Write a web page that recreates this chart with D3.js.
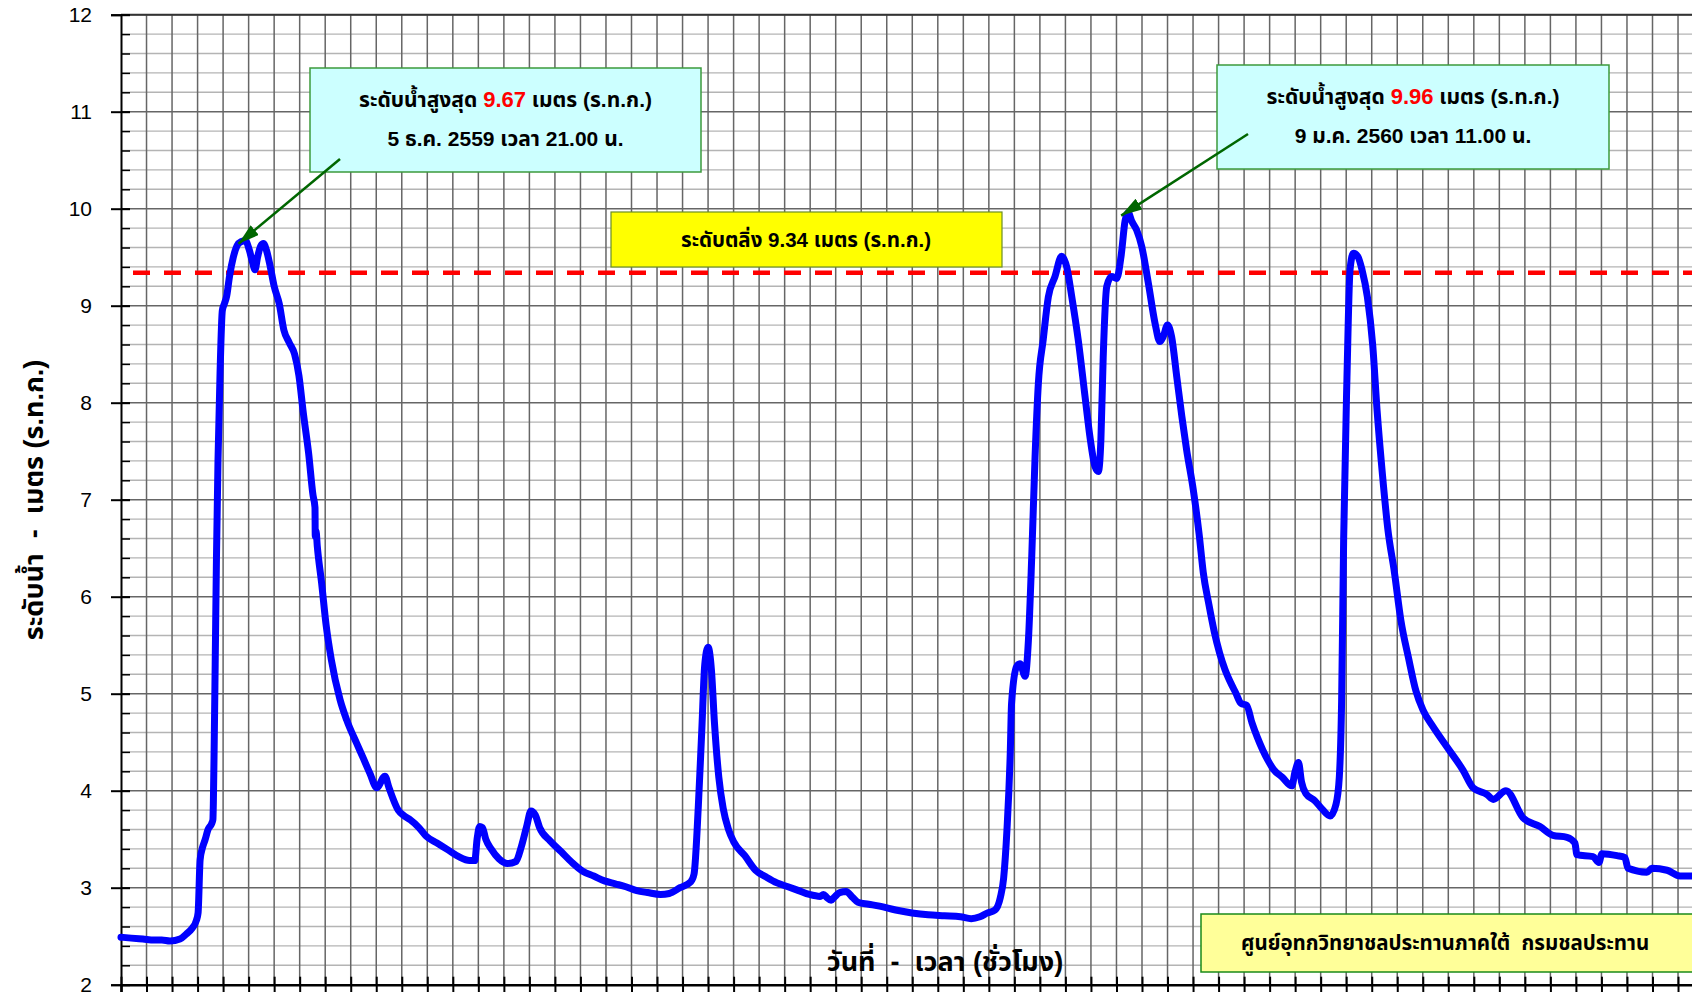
<!DOCTYPE html>
<html>
<head>
<meta charset="utf-8">
<script src="https://cdn.jsdelivr.net/npm/d3@7"></script>
<style>
  html, body { margin: 0; padding: 0; background: #fff; }
  svg { display: block; font-family: Arial, "Liberation Sans", "Noto Sans Thai", Tahoma, sans-serif; }
  text { white-space: pre; }
</style>
</head>
<body>
<svg id="chart"></svg>
<script>
var width = 1692, height = 992;
var left = 121, top0 = 14.7, bottom = 984.7;
var pxPerDay = 25.525;
var nDays = 62;
var startDate = Date.UTC(2016, 11, 1); // 1 ธ.ค. 2559 00:00

// วันนับจากวันที่ 1 ธ.ค. (ทศนิยม = ชั่วโมง/24)
var obsDay = [
  0.00, 0.40, 0.86, 1.30, 1.60, 1.92, 2.31, 2.55, 2.78, 2.95,
  3.02, 3.10, 3.20, 3.29, 3.41, 3.55, 3.60, 3.62, 3.65, 3.69,
  3.74, 3.80, 3.88, 3.97, 4.05, 4.14, 4.25, 4.40, 4.55, 4.70,
  4.875, 5.02, 5.15, 5.25, 5.35, 5.48, 5.58, 5.70, 5.85, 6.00,
  6.20, 6.38, 6.59, 6.80, 6.97, 7.14, 7.35, 7.52, 7.60, 7.61,
  7.64, 7.69, 7.86, 8.03, 8.24, 8.58, 8.84, 9.23, 9.50, 9.75,
  10.02, 10.34, 10.50, 10.86, 11.10, 11.33, 11.67, 11.96, 12.38, 12.81,
  13.23, 13.65, 13.86, 13.95, 14.05, 14.16, 14.29, 14.50, 14.80, 15.14,
  15.47, 15.68, 15.90, 16.06, 16.23, 16.40, 16.82, 17.25, 17.67, 18.09,
  18.52, 18.94, 19.36, 19.78, 20.21, 20.63, 21.14, 21.48, 21.90, 22.32,
  22.45, 22.62, 22.75, 22.87, 23.00, 23.13, 23.25, 23.42, 23.59, 23.80,
  24.01, 24.44, 24.86, 25.28, 25.70, 26.13, 26.55, 26.97, 27.39, 27.52,
  27.65, 27.82, 27.94, 28.16, 28.41, 28.66, 28.87, 29.29, 29.72, 30.35,
  30.99, 31.62, 32.26, 32.89, 33.31, 33.65, 33.95, 34.24, 34.45, 34.58,
  34.71, 34.84, 34.89, 35.09, 35.22, 35.42, 35.55, 35.68, 35.81, 35.94,
  36.13, 36.33, 36.59, 36.85, 37.05, 37.25, 37.50, 37.77, 37.96, 38.16,
  38.29, 38.39, 38.48, 38.62, 38.81, 39.01, 39.18, 39.34, 39.458, 39.60,
  39.79, 39.99, 40.25, 40.51, 40.70, 40.83, 41.00, 41.16, 41.36, 41.56,
  41.75, 42.01, 42.24, 42.40, 42.62, 42.83, 43.04, 43.25, 43.46, 43.67,
  43.88, 44.10, 44.31, 44.52, 44.73, 44.94, 45.15, 45.49, 45.87, 46.00,
  46.13, 46.25, 46.42, 46.76, 47.06, 47.37, 47.60, 47.73, 47.82, 47.90,
  48.03, 48.15, 48.28, 48.45, 48.62, 48.83, 49.04, 49.21, 49.42, 49.63,
  49.89, 50.14, 50.44, 50.73, 51.01, 51.40, 51.95, 52.58, 52.97, 53.52,
  53.76, 54.26, 54.93, 55.59, 56.10, 56.65, 56.96, 57.04, 57.67, 57.90,
  58.02, 58.61, 58.92, 59.04, 59.78, 59.98, 60.57, 61.08, 61.60
];

// ระดับน้ำ (ม. ร.ท.ก.)
var obsLevel = [
  2.49, 2.48, 2.47, 2.46, 2.46, 2.45, 2.47, 2.52, 2.58, 2.66,
  2.74, 3.29, 3.42, 3.49, 3.60, 3.66, 3.70, 3.90, 4.45, 5.30,
  6.40, 7.40, 8.30, 8.95, 9.02, 9.10, 9.30, 9.50, 9.62, 9.66,
  9.67, 9.58, 9.45, 9.37, 9.50, 9.62, 9.64, 9.57, 9.40, 9.20,
  9.02, 8.75, 8.62, 8.50, 8.28, 7.90, 7.48, 7.05, 6.92, 6.62,
  6.68, 6.52, 6.14, 5.72, 5.35, 4.94, 4.73, 4.49, 4.33, 4.18,
  4.03, 4.15, 4.03, 3.80, 3.74, 3.70, 3.62, 3.53, 3.46, 3.39,
  3.32, 3.28, 3.28, 3.50, 3.63, 3.62, 3.50, 3.40, 3.30, 3.25,
  3.27, 3.42, 3.64, 3.79, 3.75, 3.62, 3.48, 3.37, 3.26, 3.17,
  3.12, 3.07, 3.04, 3.01, 2.97, 2.95, 2.93, 2.94, 3.00, 3.06,
  3.14, 3.85, 4.60, 5.30, 5.48, 5.25, 4.70, 4.14, 3.82, 3.60,
  3.47, 3.33, 3.18, 3.11, 3.05, 3.01, 2.97, 2.93, 2.91, 2.93,
  2.90, 2.87, 2.90, 2.95, 2.96, 2.90, 2.85, 2.83, 2.81, 2.77,
  2.74, 2.72, 2.71, 2.70, 2.68, 2.70, 2.74, 2.77, 2.90, 3.10,
  3.60, 4.40, 4.90, 5.28, 5.31, 5.18, 5.55, 6.41, 7.44, 8.20,
  8.65, 9.09, 9.30, 9.51, 9.40, 9.09, 8.65, 8.06, 7.65, 7.34,
  7.29, 7.62, 8.47, 9.20, 9.30, 9.28, 9.51, 9.88, 9.96, 9.87,
  9.78, 9.61, 9.23, 8.82, 8.63, 8.68, 8.80, 8.68, 8.27, 7.86,
  7.51, 7.10, 6.64, 6.25, 5.92, 5.64, 5.42, 5.25, 5.12, 5.01,
  4.90, 4.88, 4.70, 4.55, 4.42, 4.31, 4.22, 4.14, 4.05, 4.20,
  4.29, 4.09, 3.97, 3.90, 3.81, 3.74, 3.86, 4.14, 4.92, 6.59,
  8.26, 9.37, 9.54, 9.51, 9.37, 9.09, 8.59, 7.92, 7.26, 6.70,
  6.25, 5.76, 5.37, 5.03, 4.83, 4.66, 4.45, 4.21, 4.03, 3.96,
  3.91, 4.00, 3.72, 3.63, 3.54, 3.52, 3.46, 3.34, 3.32, 3.26,
  3.35, 3.33, 3.31, 3.20, 3.16, 3.20, 3.18, 3.12, 3.12
];

var yTicks = [2, 3, 4, 5, 6, 7, 8, 9, 10, 11, 12];
var bankLevel = 9.34;
var peaks = [
  { day: 4.875, level: 9.67, line1: "ระดับน้ำสูงสุด ", value: "9.67", line1b: " เมตร (ร.ท.ก.)", line2: "5 ธ.ค. 2559 เวลา 21.00 น." },
  { day: 39.458, level: 9.96, line1: "ระดับน้ำสูงสุด ", value: "9.96", line1b: " เมตร (ร.ท.ก.)", line2: "9 ม.ค. 2560 เวลา 11.00 น." }
];
var bankLabel = "ระดับตลิ่ง 9.34 เมตร (ร.ท.ก.)";
var sourceLabel = "ศูนย์อุทกวิทยาชลประทานภาคใต้  กรมชลประทาน";
var xTitle = "วันที่  -  เวลา (ชั่วโมง)";
var yTitle = "ระดับน้ำ  -  เมตร (ร.ท.ก.)";

var toDate = d => new Date(startDate + d * 864e5);
var dataset = obsDay.map((d, i) => ({ t: toDate(d), v: obsLevel[i] }));

var svg = d3.select("#chart").attr("width", width).attr("height", height);

var xScale = d3.scaleUtc()
  .domain([toDate(0), toDate(nDays)])
  .range([left, left + nDays * pxPerDay]);
var yScale = d3.scaleLinear().domain([2, 12]).range([bottom, top0]);

// เส้นกริด
var grid = svg.append("g");
var minorY = d3.range(2, 12.001, 0.2).map(v => +v.toFixed(1));
grid.selectAll(".hminor").data(minorY.filter(v => Math.abs(v - Math.round(v)) > 0.01))
  .enter().append("line")
  .attr("x1", left).attr("x2", width)
  .attr("y1", d => yScale(d)).attr("y2", d => yScale(d))
  .attr("stroke", "#b4b4b4").attr("stroke-width", 1.4);
grid.selectAll(".hmajor").data(yTicks)
  .enter().append("line")
  .attr("x1", left).attr("x2", width)
  .attr("y1", d => yScale(d)).attr("y2", d => yScale(d))
  .attr("stroke", "#666").attr("stroke-width", 1.5);
var dayTicks = d3.range(1, nDays + 1).map(toDate);
grid.selectAll(".vline").data(dayTicks)
  .enter().append("line")
  .attr("x1", d => xScale(d)).attr("x2", d => xScale(d))
  .attr("y1", top0).attr("y2", bottom)
  .attr("stroke", "#666").attr("stroke-width", 1.5);

// กรอบบน
svg.append("line").attr("x1", left).attr("x2", width)
  .attr("y1", top0).attr("y2", top0).attr("stroke", "#333").attr("stroke-width", 2);

// แกน y
var yAxis = svg.append("g").attr("transform", "translate(" + left + ",0)")
  .call(d3.axisLeft(yScale).tickValues(yTicks).tickSize(10).tickPadding(19));
yAxis.select(".domain").attr("stroke", "#000").attr("stroke-width", 2);
yAxis.selectAll(".tick line").attr("stroke", "#000").attr("stroke-width", 2).attr("x2", -10).attr("x1", 9);
yAxis.selectAll(".tick text").attr("font-size", 21).attr("fill", "#000")
  .attr("font-family", "Arial, 'Liberation Sans', sans-serif");
svg.append("g").attr("transform", "translate(" + left + ",0)")
  .call(d3.axisRight(yScale).tickValues(minorY).tickSize(9).tickFormat(""))
  .call(g => g.select(".domain").remove())
  .selectAll(".tick line").attr("stroke", "#000").attr("stroke-width", 1.5);

// แกน x
var xAxis = svg.append("g").attr("transform", "translate(0," + bottom + ")")
  .call(d3.axisBottom(xScale).tickValues(d3.range(0, nDays + 1).map(toDate)).tickSize(8).tickFormat(""));
xAxis.select(".domain").attr("stroke", "#000").attr("stroke-width", 2.5);
xAxis.selectAll(".tick line").attr("stroke", "#000").attr("stroke-width", 2).attr("y1", -8);

// ระดับตลิ่ง
svg.append("line")
  .attr("x1", left).attr("x2", width)
  .attr("y1", yScale(bankLevel)).attr("y2", yScale(bankLevel))
  .attr("stroke", "#ff0000").attr("stroke-width", 4.5)
  .attr("stroke-dasharray", "17,14").attr("stroke-dashoffset", -12);

// เส้นระดับน้ำ
var line = d3.line().x(d => xScale(d.t)).y(d => yScale(d.v)).curve(d3.curveMonotoneX);
svg.append("path").datum(dataset)
  .attr("d", line)
  .attr("fill", "none").attr("stroke", "#0000ff").attr("stroke-width", 7)
  .attr("stroke-linejoin", "round").attr("stroke-linecap", "round");

// ลูกศร
svg.append("defs").append("marker")
  .attr("id", "arr").attr("viewBox", "0 0 20 12").attr("refX", 20).attr("refY", 6)
  .attr("markerWidth", 8.5).attr("markerHeight", 5.1).attr("markerUnits", "strokeWidth")
  .attr("orient", "auto")
  .append("path").attr("d", "M0,0 L20,6 L0,12 Z").attr("fill", "#006600");

var boxes = [
  { x: 310, y: 68, w: 391, h: 104, tail: [340, 159] },
  { x: 1217, y: 65, w: 392, h: 104, tail: [1248, 134] }
];
peaks.forEach(function(p, i) {
  var b = boxes[i];
  var g = svg.append("g");
  g.append("rect").attr("x", b.x).attr("y", b.y).attr("width", b.w).attr("height", b.h)
    .attr("fill", "#ccffff").attr("stroke", "#3c9a3c").attr("stroke-width", 1.5);
  var t1 = g.append("text").attr("x", b.x + b.w / 2).attr("y", b.y + 39)
    .attr("text-anchor", "middle").attr("font-size", 21).attr("font-weight", "bold");
  t1.append("tspan").text(p.line1);
  t1.append("tspan").attr("fill", "#ff0000").attr("font-size", 22).text(p.value);
  t1.append("tspan").text(p.line1b);
  g.append("text").attr("x", b.x + b.w / 2).attr("y", b.y + 78)
    .attr("text-anchor", "middle").attr("font-size", 21).attr("font-weight", "bold")
    .text(p.line2);
  svg.append("line")
    .attr("x1", b.tail[0]).attr("y1", b.tail[1])
    .attr("x2", xScale(toDate(p.day)) - 7).attr("y2", yScale(p.level) + 3)
    .attr("stroke", "#006600").attr("stroke-width", 2.5)
    .attr("marker-end", "url(#arr)");
});

// กล่องระดับตลิ่ง
svg.append("rect").attr("x", 611).attr("y", 212).attr("width", 391).attr("height", 55)
  .attr("fill", "#ffff00").attr("stroke", "#6b8e23").attr("stroke-width", 1.2);
svg.append("text").attr("x", 806).attr("y", 247).attr("text-anchor", "middle")
  .attr("font-size", 20.5).attr("font-weight", "bold").text(bankLabel);

// กล่องแหล่งข้อมูล
svg.append("rect").attr("x", 1201).attr("y", 914).attr("width", 520).attr("height", 58)
  .attr("fill", "#ffff99").attr("stroke", "#1a8a1a").attr("stroke-width", 1.5);
svg.append("text").attr("x", 1445).attr("y", 950).attr("text-anchor", "middle")
  .attr("font-size", 20.5).attr("font-weight", "bold").text(sourceLabel);

// ชื่อแกน
svg.append("text").attr("x", 945).attr("y", 971).attr("text-anchor", "middle")
  .attr("font-size", 27).attr("font-weight", "bold").text(xTitle);
svg.append("text").attr("transform", "translate(43,500) rotate(-90)")
  .attr("text-anchor", "middle").attr("font-size", 27).attr("font-weight", "bold").text(yTitle);
</script>
</body>
</html>
